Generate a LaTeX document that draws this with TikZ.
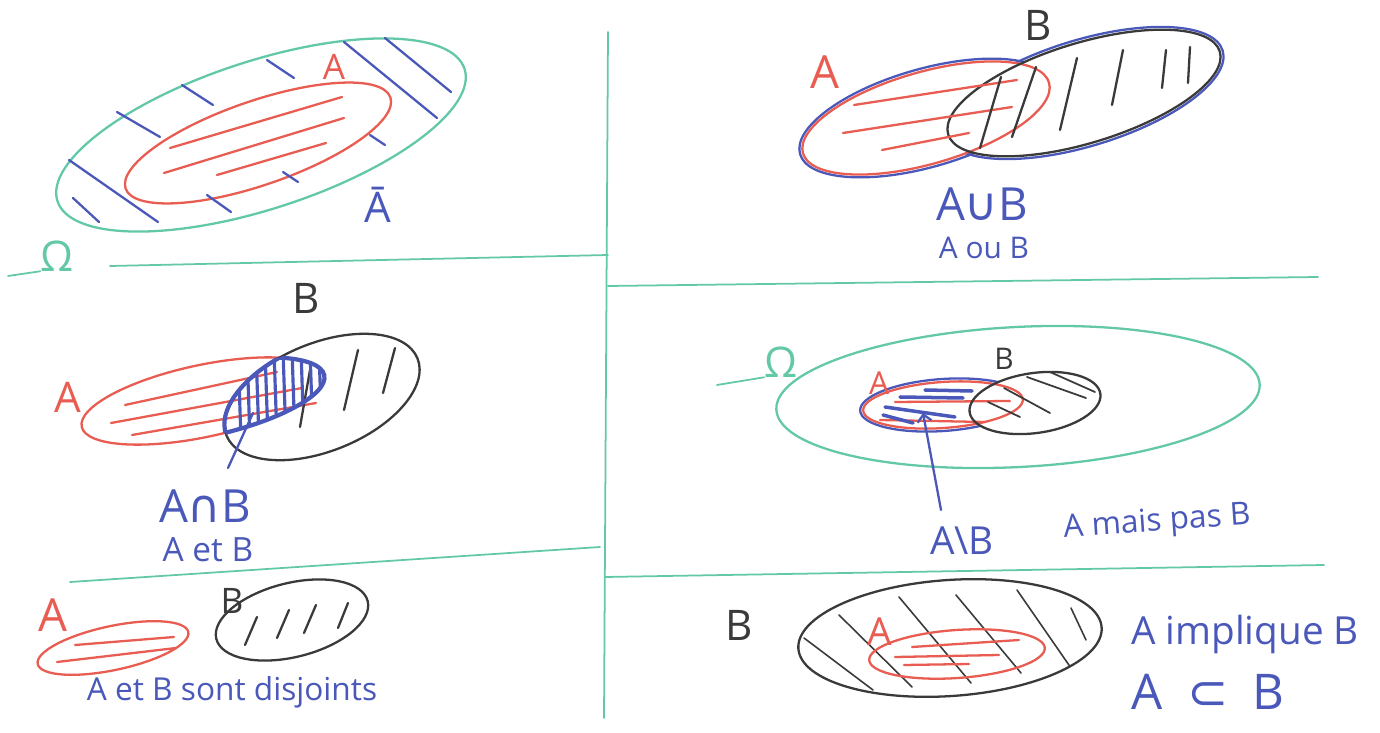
\documentclass[tikz,border=0pt]{standalone}
\usepackage{fontspec}
\setmainfont{Open Sans}
\newfontfamily\symfont{DejaVu Sans}
\usetikzlibrary{arrows.meta}
\definecolor{inkblue}{HTML}{4A58BA}
\definecolor{inkred}{HTML}{E85C52}
\definecolor{inkgreen}{HTML}{63C8A8}
\definecolor{inkblack}{HTML}{3A3A3A}
\newcommand{\fsz}[1]{\fontsize{#1}{#1}\selectfont}

\begin{document}
\begin{tikzpicture}[x=0.02cm,y=-0.02cm,
  pen/.style={line width=1.3pt,line cap=round},
  rulegreen/.style={inkgreen,line width=1pt,line cap=round},
  lab/.style={inner sep=0pt}]
  \fill[white] (0,0) rectangle (1380,733);
  \useasboundingbox (0,0) rectangle (1380,733);

  % page rules
  \draw[rulegreen] (608,32) -- (604,718);
  \draw[rulegreen] (110,266) -- (608,255);
  \draw[rulegreen] (608,286) -- (1318,277);
  \draw[rulegreen] (70,582) -- (600,547);
  \draw[rulegreen] (605,577) -- (1324,565);

  % complement
  \node[lab,text=inkgreen,font=\fsz{24}] (omegaleft) at (57,256) {Ω};
  \draw[rulegreen] (8,276) -- (omegaleft.base west);
  \draw[inkgreen,pen,rotate around={18:(261,135)}] (261,135) ellipse [x radius=214,y radius=74];
  \draw[inkred,pen,rotate around={19:(258,143)}] (258,143) ellipse [x radius=140,y radius=42];
  \foreach \xa/\ya/\xb/\yb in {170/148/342/97, 164/173/344/118, 217/175/326/143}
    \draw[inkred,pen] (\xa,\ya) -- (\xb,\yb);
  \foreach \xa/\ya/\xb/\yb in {117/112/160/137, 182/85/213/105, 267/60/294/78,
      344/42/437/118, 385/38/451/92, 370/135/385/145, 283/172/298/182,
      207/195/231/212, 69/160/158/222, 73/198/99/222}
    \draw[inkblue,pen] (\xa,\ya) -- (\xb,\yb);
  \node[lab,text=inkred,font=\fsz{20}] (acomp) at (334,67) {A};
  \node[lab,text=inkblue,font=\fsz{24}] (abar) at (378,205) {Ā};

  % union
  \draw[inkblue,pen,rotate around={16:(926,118)}] (926,118) ellipse [x radius=131,y radius=49];
  \draw[inkblue,pen,rotate around={17:(1084,93)}] (1084,93) ellipse [x radius=145,y radius=53];
  \fill[white,rotate around={16:(926,118)}] (926,118) ellipse [x radius=128,y radius=46];
  \fill[white,rotate around={17:(1084,93)}] (1084,93) ellipse [x radius=142,y radius=50];
  \draw[inkred,pen,rotate around={16:(926,118)}] (926,118) ellipse [x radius=128,y radius=46];
  \draw[inkblack,pen,rotate around={17:(1084,93)}] (1084,93) ellipse [x radius=142,y radius=50];
  \foreach \xa/\ya/\xb/\yb in {854/105/1017/80, 843/133/1012/107, 882/150/969/133}
    \draw[inkred,pen] (\xa,\ya) -- (\xb,\yb);
  \foreach \xa/\ya/\xb/\yb in {980/148/1001/77, 1012/137/1036/67, 1060/130/1077/58,
      1112/105/1123/50, 1162/88/1166/50, 1188/83/1190/47}
    \draw[inkblack,pen] (\xa,\ya) -- (\xb,\yb);
  \node[lab,text=inkred,font=\fsz{26}] (aunion) at (825,72) {A};
  \node[lab,text=inkblack,font=\fsz{24}] (bunion) at (1038,25) {B};
  \node[lab,text=inkblue,font=\fsz{26}] (cupAB) at (982,204) {A{\symfont ∪}B};
  \node[lab,text=inkblue,font=\fsz{17}] (ouAB) at (984,248) {A ou B};

  % intersection
  \draw[inkred,pen,rotate around={12:(203,401)}] (203,401) ellipse [x radius=124,y radius=36];
  \foreach \xa/\ya/\xb/\yb in {125/405/277/372, 111/423/302/388, 132/435/316/403}
    \draw[inkred,pen] (\xa,\ya) -- (\xb,\yb);
  \draw[inkblack,pen,rotate around={22:(322,397)}] (322,397) ellipse [x radius=103,y radius=54];
  \foreach \xa/\ya/\xb/\yb in {300/427/310/370, 344/410/358/350, 383/393/395/348}
    \draw[inkblack,pen] (\xa,\ya) -- (\xb,\yb);
  \begin{scope}
    \clip[rotate around={12:(203,401)}] (203,401) ellipse [x radius=124,y radius=36];
    \draw[inkblue,line width=2.4pt,rotate around={22:(322,397)}] (322,397) ellipse [x radius=103,y radius=54];
    \clip[rotate around={22:(322,397)}] (322,397) ellipse [x radius=103,y radius=54];
    \foreach \x in {238,247,...,320}
      \draw[inkblue,line width=1.8pt] (\x,350) -- (\x+3,440);
  \end{scope}
  \begin{scope}
    \clip[rotate around={22:(322,397)}] (322,397) ellipse [x radius=103,y radius=54];
    \draw[inkblue,line width=2.4pt,rotate around={12:(203,401)}] (203,401) ellipse [x radius=124,y radius=36];
  \end{scope}
  \node[lab,text=inkred,font=\fsz{24}] (ainter) at (68,397) {A};
  \node[lab,text=inkblack,font=\fsz{24}] (binter) at (306,298) {B};
  \node[lab,text=inkblue,font=\fsz{26}] (capAB) at (205,506) {A{\symfont ∩}B};
  \node[lab,text=inkblue,font=\fsz{19}] (etAB) at (208,550) {A et B};
  \coordinate (capin) at (253,413);
  \coordinate (capout) at (228,468);
  \draw[inkblue,pen] (capin) -- (capout);

  % disjoint sets
  \draw[inkred,pen,rotate around={12:(113,648)}] (113,648) ellipse [x radius=77,y radius=22];
  \foreach \xa/\ya/\xb/\yb in {75/645/174/637, 57/662/176/648}
    \draw[inkred,pen] (\xa,\ya) -- (\xb,\yb);
  \draw[inkblack,pen,rotate around={14:(292,620)}] (292,620) ellipse [x radius=78,y radius=37];
  \foreach \xa/\ya/\xb/\yb in {245/645/257/617, 277/638/289/610, 304/633/316/605, 338/628/348/603}
    \draw[inkblack,pen] (\xa,\ya) -- (\xb,\yb);
  \node[lab,text=inkred,font=\fsz{26}] (adisj) at (53,615) {A};
  \node[lab,text=inkblack,font=\fsz{20}] (bdisj) at (232,601) {B};
  \node[lab,text=inkblue,font=\fsz{18}] (disjoint) at (232,692) {A et B sont disjoints};

  % difference
  \node[lab,text=inkgreen,font=\fsz{24}] (omegaright) at (781,362) {Ω};
  \draw[rulegreen] (717,385) -- (omegaright.base west);
  \draw[inkgreen,pen,rotate around={3:(1018,397)}] (1018,397) ellipse [x radius=242,y radius=70];
  \draw[inkblue,pen,rotate around={4:(943,405)}] (943,405) ellipse [x radius=83,y radius=26];
  \fill[white,rotate around={8:(1035,403)}] (1035,403) ellipse [x radius=66,y radius=30];
  \draw[inkred,pen,rotate around={4:(943,405)}] (943,405) ellipse [x radius=80,y radius=23];
  \foreach \xa/\ya/\xb/\yb in {895/402/1010/401, 880/420/985/422}
    \draw[inkred,pen] (\xa,\ya) -- (\xb,\yb);
  \foreach \xa/\ya/\xb/\yb in {925/390/972/391, 900/397/963/398, 885/407/955/417, 883/415/913/423}
    \draw[inkblue,line width=2pt,line cap=round] (\xa,\ya) -- (\xb,\yb);
  \draw[inkblack,pen,rotate around={8:(1035,403)}] (1035,403) ellipse [x radius=66,y radius=30];
  \begin{scope}
    \clip[rotate around={8:(1035,403)}] (1035,403) ellipse [x radius=66,y radius=30];
    \foreach \xa/\ya/\xb/\yb in {1027/377/1086/398, 1050/372/1095/392, 1004/388/1050/413, 988/402/1020/417}
      \draw[inkblack,line width=1pt,line cap=round] (\xa,\ya) -- (\xb,\yb);
  \end{scope}
  \node[lab,text=inkred,font=\fsz{18}] (adiff) at (879,383) {A};
  \node[lab,text=inkblack,font=\fsz{17}] (bdiff) at (1004,359) {B};
  \node[lab,text=inkblue,font=\fsz{22}] (minusAB) at (962,541) {A\textbackslash B};
  \node[lab,text=inkblue,font=\fsz{18},rotate=4] (maisAB) at (1157,523) {A mais pas B};
  \coordinate (diffin) at (923,413);
  \coordinate (diffout) at (941,510);
  \draw[inkblue,pen,-{Straight Barb[length=4pt,width=8pt]}] (diffout) -- (diffin);

  % inclusion
  \draw[inkblack,pen,rotate around={4:(950,638)}] (950,638) ellipse [x radius=152,y radius=58];
  \begin{scope}
    \clip[rotate around={4:(950,638)}] (950,638) ellipse [x radius=152,y radius=58];
    \foreach \xa/\ya/\xb/\yb in {804/638/873/690, 839/615/912/687, 899/597/971/683,
        956/595/1021/673, 1017/590/1071/668, 1071/608/1086/640}
      \draw[inkblack,line width=0.9pt,line cap=round] (\xa,\ya) -- (\xb,\yb);
  \end{scope}
  \draw[inkred,pen,rotate around={4:(957,654)}] (957,654) ellipse [x radius=88,y radius=24];
  \foreach \xa/\ya/\xb/\yb in {912/647/1019/640, 895/657/999/655, 904/665/969/664}
    \draw[inkred,pen] (\xa,\ya) -- (\xb,\yb);
  \node[lab,text=inkblack,font=\fsz{24}] (bincl) at (739,625) {B};
  \node[lab,text=inkred,font=\fsz{22}] (aincl) at (880,632) {A};
  \node[lab,text=inkblue,font=\fsz{22}] (impl) at (1245,634) {A implique B};
  \node[lab,text=inkblue,font=\fsz{28}] (subAB) at (1208,692) {A\enspace{\symfont ⊂}\enspace B};
\end{tikzpicture}
\end{document}
